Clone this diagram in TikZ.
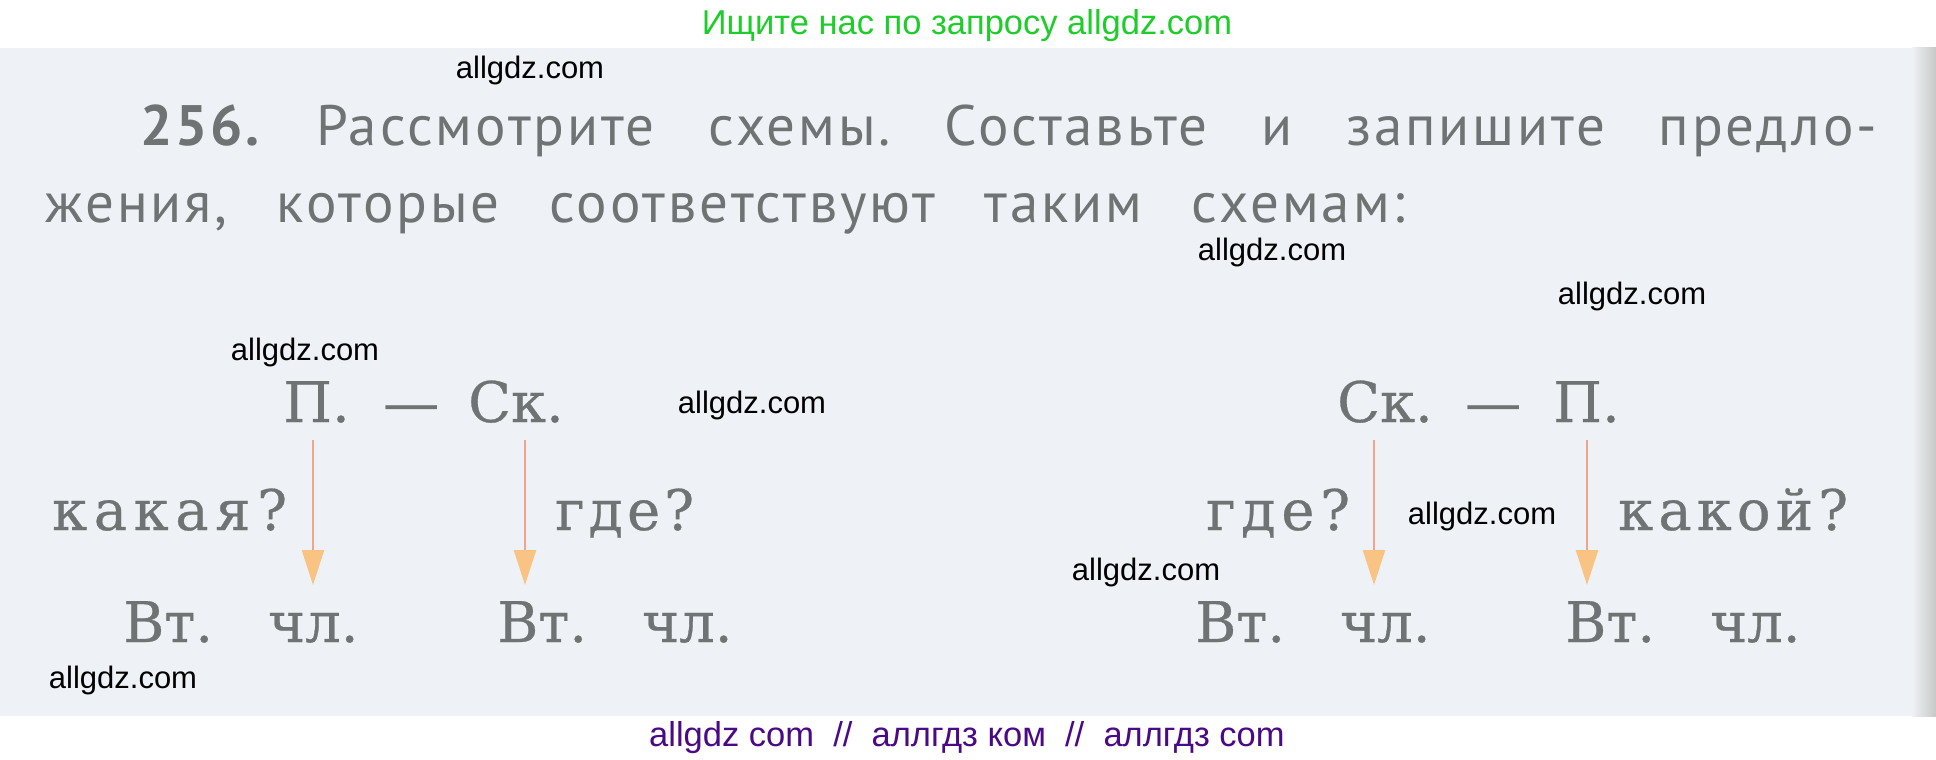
\documentclass[tikz,border=0pt]{standalone}
\usepackage{fontspec}
\setmainfont{DejaVu Serif}[FakeBold=0.5]
\newfontfamily\txtfont[LetterSpace=5]{PT Sans}
\newfontfamily\wmfont{Liberation Sans}
\usetikzlibrary{arrows.meta}
\definecolor{pagebg}{HTML}{EEF2F6}
\definecolor{inkgray}{HTML}{707373}
\definecolor{hdrgreen}{HTML}{1ECC2A}
\definecolor{ftrpurple}{HTML}{4A0A86}
\definecolor{arrline}{HTML}{F2A58C}
\definecolor{arrhead}{HTML}{F9C483}
\begin{document}
\frenchspacing
\begin{tikzpicture}[x=1pt,y=-1pt,
  serif/.style={inner sep=0pt, anchor=base west, text=inkgray, font=\fontsize{56}{60}\selectfont},
  sans/.style={inner sep=0pt, anchor=base west, text=inkgray, font=\txtfont\fontsize{57}{60}\selectfont},
  wm/.style={inner sep=0pt, anchor=center, text=black, font=\wmfont\fontsize{31}{34}\selectfont},
  banner/.style={inner sep=0pt, anchor=base, font=\wmfont\fontsize{34.5}{38}\selectfont},
  schemearrow/.style={draw=arrline, line width=2.6pt,
    -{Triangle[width=22pt,length=35pt,color=arrhead,fill=arrhead]}}]
\useasboundingbox (0,0) rectangle (1936,760);
\fill[white] (0,0) rectangle (1936,760);
\fill[pagebg] (0,48) rectangle (1936,716);
\fill[left color=pagebg, right color=black!22] (1912,48) rectangle (1936,716);

% banners
\node[banner, text=hdrgreen] (top) at (967,35) {Ищите нас по запросу allgdz.com};
\node[banner, text=ftrpurple] (bottom) at (967,746) {allgdz com \ // \ аллгдз ком \ // \ аллгдз com};

% task text
\node[sans] (line1) at (140,145) {\makebox[1737pt][s]{\textbf{256.} Рассмотрите схемы. Составьте и запишите предло-}};
\node[sans] (line2) at (45,222) {\makebox[1360pt][s]{жения, которые соответствуют таким схемам:}};

% left scheme
\node[serif] (p1) at (283,422) {П.};
\node[serif] (d1) at (383,422) {—};
\node[serif] (s1) at (468,422) {Ск.};
\node[serif] (q1) at (52,530) {\makebox[235pt][s]{к\hfill а\hfill к\hfill а\hfill я\hfill ?}};
\node[serif] (q2) at (555,530) {\makebox[139pt][s]{г\hfill д\hfill е\hfill ?}};
\node[serif] (v1) at (123,642) {Вт.};
\node[serif] (c1) at (268,642) {чл.};
\node[serif] (v2) at (497,642) {Вт.};
\node[serif] (c2) at (642,642) {чл.};

% right scheme
\node[serif] (s2) at (1337,422) {Ск.};
\node[serif] (d2) at (1465,422) {—};
\node[serif] (p2) at (1553,422) {П.};
\node[serif] (q3) at (1206,530) {\makebox[144pt][s]{г\hfill д\hfill е\hfill ?}};
\node[serif] (q4) at (1618,530) {\makebox[230pt][s]{к\hfill а\hfill к\hfill о\hfill й\hfill ?}};
\node[serif] (v3) at (1195,642) {Вт.};
\node[serif] (c3) at (1340,642) {чл.};
\node[serif] (v4) at (1565,642) {Вт.};
\node[serif] (c4) at (1710,642) {чл.};

% arrows
\coordinate (a1s) at (313,440); \coordinate (a1e) at (313,585);
\coordinate (a2s) at (525,440); \coordinate (a2e) at (525,585);
\coordinate (a3s) at (1374,440); \coordinate (a3e) at (1374,585);
\coordinate (a4s) at (1587,440); \coordinate (a4e) at (1587,585);
\draw[schemearrow] (a1s) -- (a1e);
\draw[schemearrow] (a2s) -- (a2e);
\draw[schemearrow] (a3s) -- (a3e);
\draw[schemearrow] (a4s) -- (a4e);

% watermarks
\node[wm] (w1) at (530,70) {allgdz.com};
\node[wm] (w2) at (1272,252) {allgdz.com};
\node[wm] (w3) at (1632,296) {allgdz.com};
\node[wm] (w4) at (305,352) {allgdz.com};
\node[wm] (w5) at (752,405) {allgdz.com};
\node[wm] (w6) at (1482,516) {allgdz.com};
\node[wm] (w7) at (1146,572) {allgdz.com};
\node[wm] (w8) at (123,680) {allgdz.com};
\end{tikzpicture}
\end{document}
